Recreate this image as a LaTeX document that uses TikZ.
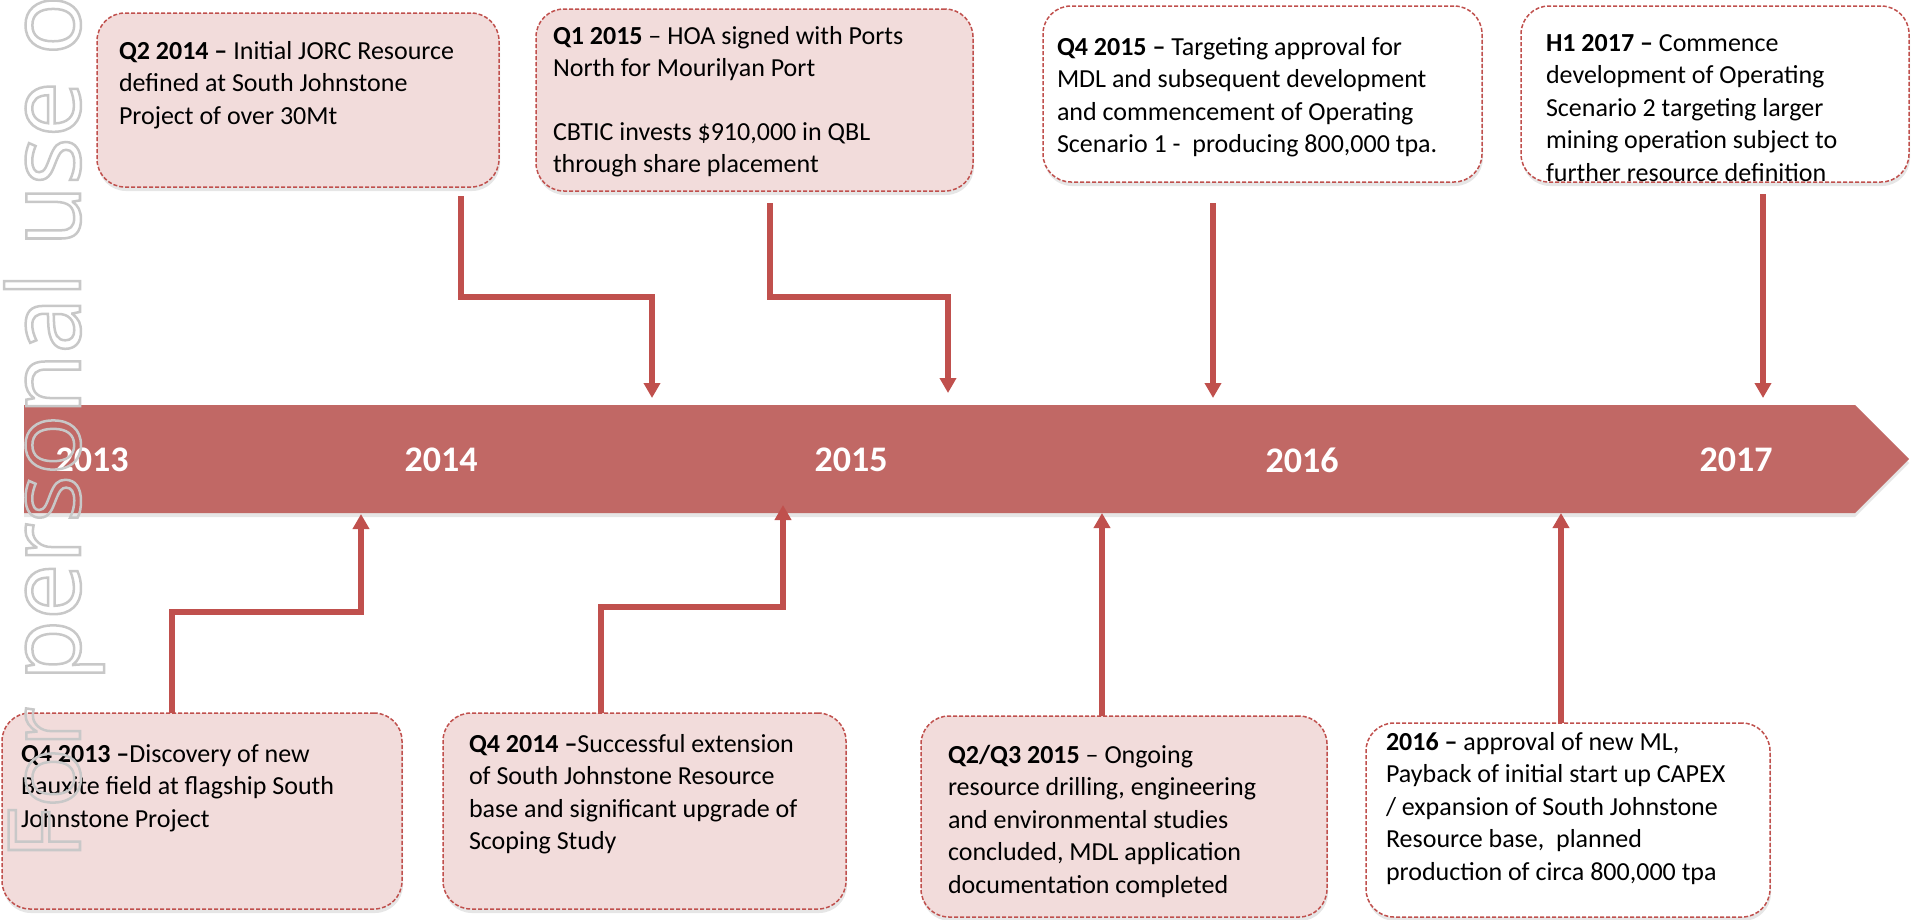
\documentclass[tikz,border=0pt]{standalone}
\usepackage{fontspec}
\setmainfont{Carlito}
\newfontfamily\wmfont{Open Sans}
\usetikzlibrary{arrows.meta,shadows}
\definecolor{bandred}{RGB}{193,104,101}
\definecolor{linkred}{RGB}{192,80,77}
\definecolor{boxpink}{RGB}{242,220,219}
\definecolor{wmgray}{RGB}{200,200,200}
\begin{document}
\begin{tikzpicture}[x=1pt, y=-1pt,
	event/.style={draw=linkred, line width=1.5pt, dash pattern=on 4pt off 2pt, fill=boxpink, rounded corners=28pt,
		anchor=north west, align=flush left, inner ysep=0pt, outer sep=0pt, font=\fontsize{26pt}{32.5pt}\selectfont,
		drop shadow={opacity=0.2, shadow xshift=1pt, shadow yshift=-4pt}},
	plainevent/.style={event, fill=white},
	link/.style={draw=linkred, line width=5.5pt, -{Triangle[width=16pt, length=15pt]}},
	year/.style={text=white, font=\fontsize{36pt}{40pt}\selectfont\bfseries}]
	   \useasboundingbox (0,0) rectangle (1911,919);
	   % the timeline band
	   \fill [bandred, drop shadow={opacity=0.2, shadow xshift=0pt, shadow yshift=-4pt}] (24,405) -- (1855,405) -- (1909,459) -- (1855,513) -- (24,513) -- cycle;
	   \node [year] (y13) at (92,460) {2013};
	   \node [year] (y14) at (441,460) {2014};
	   \node [year] (y15) at (851,460) {2015};
	   \node [year] (y16) at (1302,460) {2016};
	   \node [year] (y17) at (1736,460) {2017};
	   \coordinate (t1) at (652,398);
	   \coordinate (t2) at (948,393);
	   \coordinate (t3) at (1213,398);
	   \coordinate (t4) at (1763,398);
	   \coordinate (t5) at (361,514);
	   \coordinate (t6) at (783,505);
	   \coordinate (t7) at (1102,513);
	   \coordinate (t8) at (1561,513);
	   % events above the line
	   \node [event, inner xsep=22pt, text width=358pt, text height=46pt, text depth=128pt] (q2) at (97,13)
	      {\textbf{Q2 2014 –} Initial JORC Resource\\defined at South Johnstone\\Project of over 30Mt};
	   \node [event, inner xsep=17pt, text width=403pt, text height=35pt, text depth=147pt] (q1) at (536,9)
	      {\textbf{Q1 2015} – HOA signed with Ports\\North for Mourilyan Port\\[31pt]CBTIC invests \$910,000 in QBL\\through share placement};
	   \node [plainevent, inner xsep=14pt, text width=411pt, text height=49pt, text depth=127pt] (q4a) at (1043,6)
	      {\textbf{Q4 2015 –} Targeting approval for\\MDL and subsequent development\\and commencement of Operating\\Scenario 1 - \ producing 800,000 tpa.};
	   \node [plainevent, inner xsep=25pt, text width=338pt, text height=45pt, text depth=131pt] (h1) at (1521,6)
	      {\textbf{H1 2017 –} Commence\\development of Operating\\Scenario 2 targeting larger\\mining operation subject to\\further resource definition};
	   % events below the line
	   \node [event, inner xsep=19pt, text width=362pt, text height=49pt, text depth=147pt] (q4b) at (2,713)
	      {\textbf{Q4 2013 –}Discovery of new\\Bauxite field at flagship South\\Johnstone Project};
	   \node [event, inner xsep=26pt, text width=351pt, text height=39pt, text depth=157pt] (q4c) at (443,713)
	      {\textbf{Q4 2014 –}Successful extension\\of South Johnstone Resource\\base and significant upgrade of\\Scoping Study};
	   \node [event, inner xsep=27pt, text width=352pt, text height=47pt, text depth=154pt] (q23) at (921,716)
	      {\textbf{Q2/Q3 2015} – Ongoing\\resource drilling, engineering\\and environmental studies\\concluded, MDL application\\documentation completed};
	   \node [plainevent, inner xsep=20pt, text width=364pt, text height=27pt, text depth=167pt] (e16) at (1366,723)
	      {\textbf{2016 –} approval of new ML,\\Payback of initial start up CAPEX\\/ expansion of South Johnstone\\Resource base, \ planned\\production of circa 800,000 tpa};
	   \draw [link] ([xshift=364pt,yshift=-9pt]q2.south west) -- ++(0,101) -| (t1);
	   \draw [link] ([xshift=234pt,yshift=-12pt]q1.south west) -- ++(0,94) -| (t2);
	   \draw [link] ([xshift=170pt,yshift=-21pt]q4a.south west) -- (t3);
	   \draw [link] ([xshift=242pt,yshift=-12pt]h1.south west) -- (t4);
	   \draw [link] ([xshift=170pt]q4b.north west) -- ++(0,-101) -| (t5);
	   \draw [link] ([xshift=158pt]q4c.north west) -- ++(0,-106) -| (t6);
	   \draw [link] ([xshift=181pt]q23.north west) -- (t7);
	   \draw [link] ([xshift=195pt]e16.north west) -- (t8);
	   % watermark on top
	   \node [rotate=90, anchor=base west, inner sep=0pt, text=wmgray, font=\wmfont\fontsize{100pt}{100pt}\selectfont] (wm) at (80,860)
	      {\special{pdf:literal direct 1 Tr 2.5 w}For personal use only\special{pdf:literal direct 0 Tr}};
\end{tikzpicture}
\end{document}
